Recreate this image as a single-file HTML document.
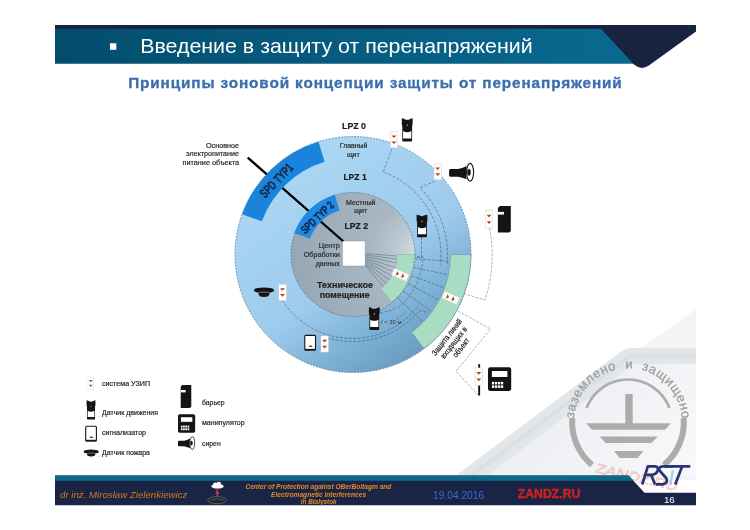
<!DOCTYPE html>
<html><head><meta charset="utf-8"><style>
html,body{margin:0;padding:0;background:#fff;width:750px;height:530px;overflow:hidden}
svg{display:block;will-change:transform}
</style></head><body>
<svg width="750" height="530" viewBox="0 0 750 530">
<defs>
<linearGradient id="hdr" x1="0" y1="0" x2="1" y2="0">
 <stop offset="0" stop-color="#034d6c"/><stop offset="1" stop-color="#0a6a92"/>
</linearGradient>
<linearGradient id="outer" gradientUnits="userSpaceOnUse" x1="287.5" y1="156.3" x2="418.5" y2="352.7">
 <stop offset="0" stop-color="#acd7f4"/><stop offset="0.58" stop-color="#9ecbed"/><stop offset="0.78" stop-color="#82b5da"/><stop offset="1" stop-color="#6a9cc2"/>
</linearGradient>
<radialGradient id="grey" gradientUnits="userSpaceOnUse" cx="422" cy="252" r="128" fx="422" fy="252">
 <stop offset="0" stop-color="#dde4e9"/><stop offset="0.18" stop-color="#bfcad2"/><stop offset="0.4" stop-color="#a8b7c2"/><stop offset="1" stop-color="#97a8b5"/>
</radialGradient>
<g id="uzip"><rect x="0" y="0" width="7.5" height="16.2" fill="#fff" stroke="#cfcfcf" stroke-width="0.5"/>
 <path d="M1.2,3.9 L6.2,3.9 L3.7,6.5 Z M1.2,9.8 L6.2,9.8 L3.7,12.5 Z" fill="#b4461a"/></g>
<g id="motion"><path d="M0.2,0.2 Q1.2,0 2.6,0.9 Q5.5,2.6 8.4,0.9 Q9.8,0 10.8,0.2 L11,5.2 L10.4,8.4 L10.4,22.6 Q10.4,23.5 9.4,23.5 L1.6,23.5 Q0.6,23.5 0.6,22.6 L0.6,8.4 L0,5.2 Z" fill="#161412"/>
 <path d="M1.4,12.9 Q5.5,15.4 9.6,12.9 L9.6,20.4 L1.4,20.4 Z" fill="#fff"/><rect x="5.1" y="6.5" width="0.9" height="1.3" fill="#ddd"/></g>
<g id="signal"><rect x="0.5" y="0.5" width="10.7" height="14.6" rx="1" fill="#fff" stroke="#161616" stroke-width="1.1"/>
 <rect x="0.5" y="14" width="10.7" height="1.6" fill="#161616"/>
 <path d="M4.3,11.9 Q4.6,10.8 6.2,10.7 Q7.9,10.8 8.2,11.9 Z" fill="#161616"/></g>
<g id="fire"><path d="M0,3.1 Q0,1.2 4,0.7 Q10,-0.3 16,0.7 Q20,1.2 20,3.1 Q20,5.1 16,5.4 L4,5.4 Q0,5.1 0,3.1 Z" fill="#161414"/>
 <path d="M4.4,5.3 L15.6,5.3 Q16,9.8 10,9.8 Q4,9.8 4.4,5.3 Z" fill="#161414"/>
 <path d="M4.5,5.1 Q10,4.3 15.5,5.1" stroke="#8a9aa6" stroke-width="0.5" fill="none"/></g>
<g id="siren"><path d="M1.4,6.1 L9,6.1 Q13,5.4 17.4,2.9 L17.4,16.2 Q13,14.5 9,13.8 L1.4,13.8 Q0,13.8 0,12.4 L0,7.5 Q0,6.1 1.4,6.1 Z" fill="#161412"/>
 <ellipse cx="21" cy="9.25" rx="3.5" ry="8.9" fill="#fff" stroke="#161412" stroke-width="1.1"/><ellipse cx="19.9" cy="9.4" rx="1.7" ry="3.3" fill="#161412"/></g>
<g id="barrier"><path d="M2,0 L12.9,0 L12.9,24.8 L11.2,26.5 L0,26.5 L0,2 Z" fill="#161412"/><rect x="0" y="5.8" width="6.1" height="2.7" fill="#fff"/></g>
<g id="manip"><rect x="0" y="0" width="23.2" height="23.8" rx="2.2" fill="#161412"/><rect x="3.9" y="3.8" width="15.5" height="6" fill="#fff"/>
 <g fill="#fff"><rect x="3.9" y="14.7" width="2.3" height="2.5"/><rect x="6.9" y="14.7" width="2.3" height="2.5"/><rect x="9.9" y="14.7" width="2.3" height="2.5"/><rect x="12.9" y="14.7" width="2.3" height="2.5"/><rect x="3.9" y="18.2" width="2.3" height="2.5"/><rect x="6.9" y="18.2" width="2.3" height="2.5"/><rect x="9.9" y="18.2" width="2.3" height="2.5"/><rect x="12.9" y="18.2" width="2.3" height="2.5"/></g></g>
</defs>
<defs><linearGradient id="wm" gradientUnits="userSpaceOnUse" x1="560" y1="380" x2="680" y2="480"><stop offset="0" stop-color="#eceef1"/><stop offset="1" stop-color="#f7f8fa"/></linearGradient></defs>
<polygon points="696,309.5 466,470 466,480 696,480" fill="#f2f4f6"/>
<polygon points="696,364 634,364 486,475.5 696,475.5" fill="url(#wm)"/>
<path d="M696,348 L631,348 Q626,348 622,351 L458,474 L458,476 L487,476 L634,364 L696,364 Z" fill="#e3e6e9"/>
<path d="M696,356 L630,356 L472,475" fill="none" stroke="#dcdfe3" stroke-width="4"/>
<g fill="none" stroke="#acacac" stroke-width="6">
<path d="M572.3,418 A56,56 0 0 0 592,465"/>
<path d="M683.7,418 A56,56 0 0 1 664,465"/>
</g>
<path d="M586.5,408 A44.5,44.5 0 0 1 669.5,408" fill="none" stroke="#acacac" stroke-width="2.6"/>
<g fill="#acacac"><rect x="625.3" y="394" width="7.4" height="30"/><polygon points="586,423.2 671,423.2 665,429.8 592,429.8"/><polygon points="599.6,436.4 657.7,436.4 651.5,443 605.8,443"/><polygon points="614,451 643.2,451 637.5,458 619.7,458"/></g>
<path id="warc" d="M574.13,418.53 A54,54 0 0 1 681.87,418.53 L686,450" fill="none"/>
<text font-family='"Liberation Sans", sans-serif' font-size="13" fill="#9c9c9c" stroke="#9c9c9c" stroke-width="0.25"><textPath href="#warc" startOffset="0" textLength="162.1" lengthAdjust="spacing" xml:space="preserve">заземлено  и  защищено</textPath></text>
<path d="M55,28 L615,28 L640,63.8 L55,63.8 Z" fill="url(#hdr)"/>
<path d="M55,25 L696,25 L696,31.5 L648.5,65.8 Q641,70.6 634,64.6 L601,28.8 L55,28.8 Z" fill="#18233f"/>
<rect x="110" y="43.3" width="6.3" height="6.5" fill="#fff"/>
<text x="140.2" y="53.3" font-family='"Liberation Sans", sans-serif' font-size="21" fill="#fff" textLength="392.5" lengthAdjust="spacingAndGlyphs">Введение в защиту от перенапряжений</text>
<text x="128.2" y="88.4" font-family='"Liberation Sans", sans-serif' font-size="14" font-weight="bold" fill="#3a6eae" stroke="#3a6eae" stroke-width="0.3" letter-spacing="0.8" textLength="494.5" lengthAdjust="spacingAndGlyphs">Принципы зоновой концепции защиты от перенапряжений</text>
<circle cx="353" cy="254.5" r="118" fill="url(#outer)" stroke="#4a6c86" stroke-width="0.7" stroke-dasharray="2,1.2"/>
<circle cx="353" cy="254.5" r="62" fill="url(#grey)" stroke="#4a6478" stroke-width="0.6" stroke-dasharray="2,1.2"/>
<path d="M247.7,157.6 L343.5,241.5" stroke="#000" stroke-width="2.3"/>
<path d="M318.50,141.66 A118,118 0 0 0 242.12,214.14 L261.85,221.32 A97,97 0 0 1 324.64,161.74 Z" fill="#1a84dc"/>
<path d="M334.73,194.73 A62.5,62.5 0 0 0 294.27,233.12 L309.77,238.77 A46,46 0 0 1 339.55,210.51 Z" fill="#1e8ae4"/>
<path d="M392,148.5 L383.3,172 A87.9,87.9 0 0 1 440.24,265.21" fill="none" stroke="#2e4a60" stroke-width="0.5" stroke-dasharray="3,1.4"/>
<path d="M435,181 L420,187.8 A94.5,94.5 0 0 1 446.98,264.38" fill="none" stroke="#2e4a60" stroke-width="0.5" stroke-dasharray="3,1.4"/>
<path d="M421.5,237 L421.5,257.5 L416,257.5" fill="none" stroke="#2e4a60" stroke-width="0.5" stroke-dasharray="3,1.4"/>
<path d="M365.2,253.5 L398.0,256.1" fill="none" stroke="#3e5a70" stroke-width="0.45"/>
<path d="M365.2,255 L397.8,259.2" fill="none" stroke="#3e5a70" stroke-width="0.45"/>
<path d="M365.2,256.5 L397.2,263.1" fill="none" stroke="#3e5a70" stroke-width="0.45"/>
<path d="M365.2,258 L396.0,267.7" fill="none" stroke="#3e5a70" stroke-width="0.45"/>
<path d="M365.2,259.5 L394.4,272.1" fill="none" stroke="#3e5a70" stroke-width="0.45"/>
<path d="M365.2,261 L392.4,276.3" fill="none" stroke="#3e5a70" stroke-width="0.45"/>
<path d="M365.2,262.5 L389.9,280.3" fill="none" stroke="#3e5a70" stroke-width="0.45"/>
<path d="M365.2,264 L387.0,284.0" fill="none" stroke="#3e5a70" stroke-width="0.45"/>
<path d="M365.2,265 L383.7,287.4" fill="none" stroke="#3e5a70" stroke-width="0.45"/>
<path d="M414.8,258.8 L449.8,261.3" fill="none" stroke="#2e4a60" stroke-width="0.5" stroke-dasharray="3,1.4"/>
<path d="M413.6,267.4 L447.9,274.7" fill="none" stroke="#2e4a60" stroke-width="0.5" stroke-dasharray="3,1.4"/>
<path d="M411.3,275.7 L444.2,287.7" fill="none" stroke="#2e4a60" stroke-width="0.5" stroke-dasharray="3,1.4"/>
<path d="M407.7,283.6 L438.6,300.0" fill="none" stroke="#2e4a60" stroke-width="0.5" stroke-dasharray="3,1.4"/>
<path d="M403.2,290.9 L431.5,311.5" fill="none" stroke="#2e4a60" stroke-width="0.5" stroke-dasharray="3,1.4"/>
<path d="M397.6,297.6 L422.8,321.9" fill="none" stroke="#2e4a60" stroke-width="0.5" stroke-dasharray="3,1.4"/>
<path d="M398.00,308.12 A70,70 0 0 0 422.96,256.94 L415.0,256.7" fill="none" stroke="#2e4a60" stroke-width="0.5" stroke-dasharray="3,1.4"/>
<path d="M396.62,319.16 A78,78 0 0 0 405.19,312.47" fill="none" stroke="#2e4a60" stroke-width="0.5" stroke-dasharray="3,1.4"/>
<path d="M282.5,300.5 A83,83 0 0 0 417.50,306.73" fill="none" stroke="#2e4a60" stroke-width="0.5" stroke-dasharray="3,1.4"/>
<path d="M328.2,340 L329.0,338.1 A87,87 0 0 0 419.65,310.42 L427.1,312.4" fill="none" stroke="#2e4a60" stroke-width="0.5" stroke-dasharray="3,1.4"/>
<path d="M380,313 L392.0,310.2 A68,68 0 0 0 396.71,306.59" fill="none" stroke="#2e4a60" stroke-width="0.5" stroke-dasharray="3,1.4"/>
<path d="M414.50,254.50 A61.5,61.5 0 0 1 391.70,302.29 L380.69,288.69 A44,44 0 0 0 397.00,254.50 Z" fill="#a9dcc2" stroke="#6a9a9a" stroke-width="0.4"/>
<path d="M471.00,254.50 A118,118 0 0 1 424.01,348.74 L411.68,332.37 A97.5,97.5 0 0 0 450.50,254.50 Z" fill="#a9dcc2" stroke="#5a8aa0" stroke-width="0.5"/>
<g transform="translate(279.63,183.64) rotate(-46.00) scale(0.668,1)"><text x="0" y="0" text-anchor="middle" font-family='"Liberation Sans", sans-serif' font-size="13" font-weight="bold" fill="#14264a" stroke="#14264a" stroke-width="0.3">SPD TYP1</text></g>
<g transform="translate(319.93,220.26) rotate(-44.00) scale(0.700,1)"><text x="0" y="0" text-anchor="middle" font-family='"Liberation Sans", sans-serif' font-size="11.5" font-weight="bold" fill="#14264a" stroke="#14264a" stroke-width="0.3">SPD TYP 2</text></g>
<rect x="342.5" y="241" width="22.7" height="25" rx="1" fill="#fff" stroke="#667" stroke-width="0.3"/>
<text x="342" y="128.7" font-family='"Liberation Sans", sans-serif' font-size="9.2" font-weight="bold" fill="#1a1a1a" stroke="#1a1a1a" stroke-width="0.18" text-anchor="start" textLength="24" lengthAdjust="spacingAndGlyphs" >LPZ 0</text>
<text x="339.8" y="147.9" font-family='"Liberation Sans", sans-serif' font-size="6.8" fill="#262626" stroke="#262626" stroke-width="0.18" text-anchor="start" textLength="27.7" lengthAdjust="spacingAndGlyphs" >Главный</text>
<text x="346.9" y="156.8" font-family='"Liberation Sans", sans-serif' font-size="6.8" fill="#262626" stroke="#262626" stroke-width="0.18" text-anchor="start" textLength="12.8" lengthAdjust="spacingAndGlyphs" >щит</text>
<text x="343.4" y="179.9" font-family='"Liberation Sans", sans-serif' font-size="9.2" font-weight="bold" fill="#1a1a1a" stroke="#1a1a1a" stroke-width="0.18" text-anchor="start" textLength="23.3" lengthAdjust="spacingAndGlyphs" >LPZ 1</text>
<text x="346" y="205.2" font-family='"Liberation Sans", sans-serif' font-size="6.8" fill="#262626" stroke="#262626" stroke-width="0.18" text-anchor="start" textLength="29.4" lengthAdjust="spacingAndGlyphs" >Местный</text>
<text x="354.3" y="213.3" font-family='"Liberation Sans", sans-serif' font-size="6.8" fill="#262626" stroke="#262626" stroke-width="0.18" text-anchor="start" textLength="13" lengthAdjust="spacingAndGlyphs" >щит</text>
<text x="344.5" y="229.2" font-family='"Liberation Sans", sans-serif' font-size="9.2" font-weight="bold" fill="#1a1a1a" stroke="#1a1a1a" stroke-width="0.18" text-anchor="start" textLength="23.5" lengthAdjust="spacingAndGlyphs" >LPZ 2</text>
<text x="339.8" y="248" font-family='"Liberation Sans", sans-serif' font-size="7.4" fill="#262626" stroke="#262626" stroke-width="0.18" text-anchor="end" textLength="21" lengthAdjust="spacingAndGlyphs" >Центр</text>
<text x="339.8" y="257" font-family='"Liberation Sans", sans-serif' font-size="7.4" fill="#262626" stroke="#262626" stroke-width="0.18" text-anchor="end" textLength="36" lengthAdjust="spacingAndGlyphs" >Обработки</text>
<text x="339.8" y="265.5" font-family='"Liberation Sans", sans-serif' font-size="7.4" fill="#262626" stroke="#262626" stroke-width="0.18" text-anchor="end" textLength="24" lengthAdjust="spacingAndGlyphs" >данных</text>
<text x="317" y="288.3" font-family='"Liberation Sans", sans-serif' font-size="9.4" font-weight="bold" fill="#222" stroke="#222" stroke-width="0.18" text-anchor="start" textLength="56" lengthAdjust="spacingAndGlyphs" >Техническое</text>
<text x="319.7" y="298" font-family='"Liberation Sans", sans-serif' font-size="9.4" font-weight="bold" fill="#222" stroke="#222" stroke-width="0.18" text-anchor="start" textLength="50" lengthAdjust="spacingAndGlyphs" >помещение</text>
<text x="239" y="148" font-family='"Liberation Sans", sans-serif' font-size="7.4" fill="#222" stroke="#222" stroke-width="0.18" text-anchor="end" textLength="33" lengthAdjust="spacingAndGlyphs" >Основное</text>
<text x="239" y="155.8" font-family='"Liberation Sans", sans-serif' font-size="7.4" fill="#222" stroke="#222" stroke-width="0.18" text-anchor="end" textLength="53" lengthAdjust="spacingAndGlyphs" >электропитание</text>
<text x="239" y="164.6" font-family='"Liberation Sans", sans-serif' font-size="7.4" fill="#222" stroke="#222" stroke-width="0.18" text-anchor="end" textLength="56.4" lengthAdjust="spacingAndGlyphs" >питание объекта</text>
<text x="381" y="324.4" font-family='"Liberation Sans", sans-serif' font-size="6.2" fill="#333" text-anchor="start" textLength="20.5" lengthAdjust="spacingAndGlyphs" >/ &lt; 30 м</text>
<use href="#uzip" x="390.3" y="131.6"/>
<use href="#motion" x="401.7" y="118.1"/>
<use href="#uzip" x="434" y="163.5"/>
<use href="#siren" x="449.1" y="163"/>
<use href="#motion" transform="translate(416.5,214.5) scale(1,0.97)"/>
<use href="#uzip" x="485.6" y="210.6" transform="translate(485.6,210.6) scale(0.93,1.08) translate(-485.6,-210.6)"/>
<use href="#barrier" x="497.9" y="206.1"/>
<use href="#fire" x="254" y="287.2"/>
<use href="#uzip" x="278.8" y="284.3"/>
<use href="#motion" transform="translate(368.8,307) scale(1,0.98)"/>
<use href="#signal" x="304.3" y="334.9"/>
<use href="#uzip" x="320.9" y="335.9"/>
<use href="#uzip" transform="translate(400.7,275) rotate(-66) translate(-3.8,-8.5)"/>
<use href="#uzip" transform="translate(451,298) rotate(-66) translate(-3.8,-8.5)"/>
<path d="M489.5,228 A139.5,139.5 0 0 1 484.90,299.92 L464.2,293.9" fill="none" stroke="#5a5a5a" stroke-width="0.45" stroke-dasharray="3,1.2"/>
<path d="M458,311 L490.5,329 L456,371.3 L478.2,395.3" fill="none" stroke="#5a5a5a" stroke-width="0.45" stroke-dasharray="3,1.2"/>
<rect x="478.2" y="364.2" width="1.9" height="31.3" fill="#111"/>
<use href="#uzip" x="475.1" y="367.9" transform="translate(475.1,367.9) scale(1,1.07) translate(-475.1,-367.9)"/>
<use href="#manip" x="488" y="367.2"/>
<g transform="translate(453.7,342.5) rotate(-52)" font-family='"Liberation Sans", sans-serif' font-size="8" fill="#1a1a1a" stroke="#1a1a1a" stroke-width="0.2" text-anchor="middle"><text x="0" y="-6" textLength="44" lengthAdjust="spacingAndGlyphs">Защита линий</text><text x="0" y="2.8" textLength="38" lengthAdjust="spacingAndGlyphs">входящих в</text><text x="0.5" y="11.6" textLength="22" lengthAdjust="spacingAndGlyphs">объект</text></g>
<use href="#uzip" transform="translate(88,377) scale(0.75,0.8)"/>
<use href="#motion" transform="translate(86.5,400.2) scale(0.82,0.82)"/>
<use href="#signal" transform="translate(85.2,425.8) scale(1,1)"/>
<use href="#fire" transform="translate(83.6,449.4) scale(0.76,0.72)"/>
<use href="#barrier" transform="translate(180.7,385) scale(0.82,0.87)"/>
<use href="#manip" transform="translate(178,414.3) scale(0.74,0.77)"/>
<use href="#siren" transform="translate(178,436.3) scale(0.68,0.73)"/>
<text x="102" y="385.8" font-family='"Liberation Sans", sans-serif' font-size="7.4" fill="#1a1a1a" stroke="#1a1a1a" stroke-width="0.18" text-anchor="start" textLength="48" lengthAdjust="spacingAndGlyphs" >система УЗИП</text>
<text x="102" y="415" font-family='"Liberation Sans", sans-serif' font-size="7.4" fill="#1a1a1a" stroke="#1a1a1a" stroke-width="0.18" text-anchor="start" textLength="56" lengthAdjust="spacingAndGlyphs" >Датчик движения</text>
<text x="102" y="434.9" font-family='"Liberation Sans", sans-serif' font-size="7.4" fill="#1a1a1a" stroke="#1a1a1a" stroke-width="0.18" text-anchor="start" textLength="44" lengthAdjust="spacingAndGlyphs" >сигнализатор</text>
<text x="102" y="455" font-family='"Liberation Sans", sans-serif' font-size="7.4" fill="#1a1a1a" stroke="#1a1a1a" stroke-width="0.18" text-anchor="start" textLength="48" lengthAdjust="spacingAndGlyphs" >Датчик пожара</text>
<text x="202" y="405" font-family='"Liberation Sans", sans-serif' font-size="7.4" fill="#1a1a1a" stroke="#1a1a1a" stroke-width="0.18" text-anchor="start" textLength="22.7" lengthAdjust="spacingAndGlyphs" >барьер</text>
<text x="202" y="425" font-family='"Liberation Sans", sans-serif' font-size="7.4" fill="#1a1a1a" stroke="#1a1a1a" stroke-width="0.18" text-anchor="start" textLength="42.7" lengthAdjust="spacingAndGlyphs" >манипулятор</text>
<text x="202" y="445.5" font-family='"Liberation Sans", sans-serif' font-size="7.4" fill="#1a1a1a" stroke="#1a1a1a" stroke-width="0.18" text-anchor="start" textLength="18.7" lengthAdjust="spacingAndGlyphs" >сирен</text>
<text x="0" y="0" transform="translate(594,472) rotate(13) skewX(-10)" font-family='"Liberation Sans", sans-serif' font-size="13" fill="none" stroke="#eea6a6" stroke-width="0.45" textLength="84" lengthAdjust="spacingAndGlyphs">ZANDZ.RU</text>
<path d="M55,475.5 L628.5,475.5 L644.5,492.8 L696,492.8 L696,505.3 L55,505.3 Z" fill="#1a2444"/>
<path d="M55,475.5 L628.5,475.5 L633.5,480.8 L55,480.8 Z" fill="#0b6a8a"/>
<text x="60" y="497.5" font-family='"Liberation Sans", sans-serif' font-size="9.8" fill="#d07a22" text-anchor="start" textLength="127.4" lengthAdjust="spacingAndGlyphs" font-style="italic">dr inż. Mirosław Zielenkiewicz</text>
<g font-family='"Liberation Sans", sans-serif' font-size="6.6" font-weight="bold" font-style="italic" fill="#e08a2a" text-anchor="middle"><text x="318.4" y="489.2" textLength="146" lengthAdjust="spacingAndGlyphs">Center of Protection against OBerBoltagm and</text><text x="318.6" y="496.7" textLength="95" lengthAdjust="spacingAndGlyphs">Electromagnetic Interferences</text><text x="318.7" y="504" textLength="36" lengthAdjust="spacingAndGlyphs">in Bialystok</text></g>
<g><ellipse cx="217.5" cy="486.2" rx="6" ry="2.4" fill="#fff"/><circle cx="215.5" cy="484.8" r="2.4" fill="#fff"/><circle cx="218.8" cy="484" r="2.3" fill="#fff"/><path d="M217.5,489 L216.5,493 L218.2,492.6 L217,496" stroke="#d83a3a" stroke-width="1.4" fill="none"/><ellipse cx="217" cy="500.2" rx="9.2" ry="3.6" fill="#20242e" stroke="#5a6070" stroke-width="1"/><path d="M210,500 Q217,498 224,500" stroke="#6a7080" stroke-width="0.6" fill="none"/></g>
<text x="433" y="499.2" font-family='"Liberation Sans", sans-serif' font-size="10" fill="#3a6ad8" text-anchor="start" textLength="51.2" lengthAdjust="spacingAndGlyphs" >19.04.2016</text>
<text x="517.8" y="498" font-family='"Liberation Sans", sans-serif' font-size="12.5" font-weight="bold" fill="#d42020" stroke="#d42020" stroke-width="0.35" text-anchor="start" textLength="62.6" lengthAdjust="spacingAndGlyphs" >ZANDZ.RU</text>
<text x="663.9" y="503.2" font-family='"Liberation Sans", sans-serif' font-size="9.6" fill="#fff" text-anchor="start" textLength="10.9" lengthAdjust="spacingAndGlyphs" >16</text>
<g fill="none" stroke="#2a3474" stroke-width="2.7" stroke-linejoin="round"><path d="M642.2,484.5 L647.8,466.3 L655,466.3 Q659,466.6 657.5,471 Q656,474.8 651,474.8 L646.5,474.8 M651.2,474.8 L655,484.5"/><path d="M673,466.3 L663,466.3 Q658.5,466.5 659.5,470.5 L666.5,478.5 Q668,482.5 663.5,484.3 L655.8,484.3"/><path d="M664.6,466.3 L690.3,466.3 M682,466.8 L675.2,484.6"/></g>
<path d="M672.8,470 L670.6,484.8" stroke="#a6cbe6" stroke-width="2.2"/>
</svg></body></html>
